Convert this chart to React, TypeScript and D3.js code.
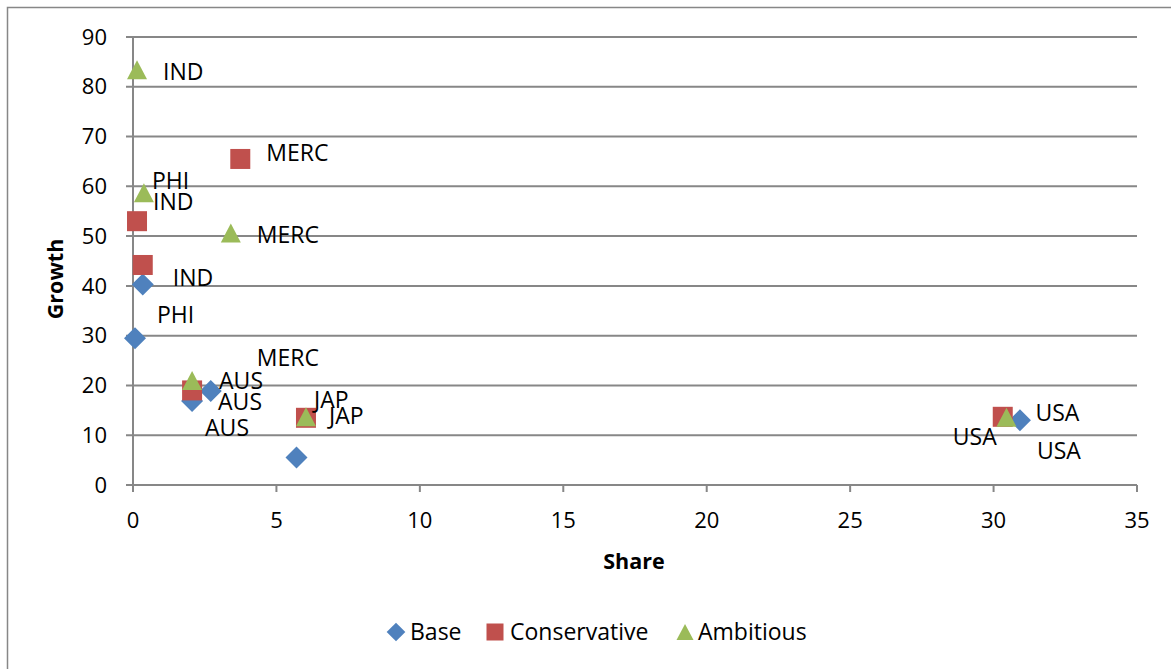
import React from "react";
import * as d3 from "d3";

// ---- data ----
const countries = ["IND", "PHI", "MERC", "AUS", "JAP", "USA"];
const baseShare = [0.34, 0.07, 2.71, 2.06, 5.7, 30.92];
const baseGrowth = [40.3, 29.5, 18.9, 16.9, 5.5, 13.0];
const consShare = [0.14, 0.34, 3.74, 2.06, 6.03, 30.32];
const consGrowth = [53.0, 44.2, 65.5, 19.0, 13.5, 13.7];
const ambShare = [0.14, 0.38, 3.41, 2.06, 6.03, 30.45];
const ambGrowth = [83.4, 58.7, 50.6, 21.0, 13.7, 13.6];
// which points show a data label
const baseLabelShown = [true, true, true, true, false, true];
const consLabelShown = [true, false, true, true, true, true];
const ambLabelShown = [true, true, true, true, true, true];
const xTicks = [0, 5, 10, 15, 20, 25, 30, 35];
const yTicks = [0, 10, 20, 30, 40, 50, 60, 70, 80, 90];
const seriesNames = ["Base", "Conservative", "Ambitious"];

// label offsets (pixels, style only): [dx to label start, dy to label middle]
const baseLabelOffsets: [number, number][] = [[30, -6], [22, -23], [46, -33], [13, 27], [0, 0], [17, 31]];
const consLabelOffsets: [number, number][] = [[16, -19], [0, 0], [26, -6], [26, 12], [8, -18], [-50, 20]];
const ambLabelOffsets: [number, number][] = [[26, 2], [8, -12], [26, 2], [27, 0], [23, -1], [29, -4]];

const colors = ["#4F81BD", "#C0504D", "#9BBB59"];
const FONT = "'Open Sans', sans-serif";
const GRID = "#878787";

const W = 1171, H = 669;
const x = d3.scaleLinear().domain([0, 35]).range([133, 1137]);
const y = d3.scaleLinear().domain([0, 90]).range([485, 37]);

function Marker({ kind, cx, cy, size, color }: { kind: number; cx: number; cy: number; size: number; color: string }) {
  if (kind === 0) {
    const r = size * 0.55;
    return <path d={`M${cx},${cy - r}L${cx + r},${cy}L${cx},${cy + r}L${cx - r},${cy}Z`} fill={color} />;
  }
  if (kind === 1) {
    return <rect x={cx - size / 2} y={cy - size / 2} width={size} height={size} fill={color} />;
  }
  const h = size * 0.95;
  return <path d={`M${cx},${cy - h / 2}L${cx + size / 2},${cy + h / 2}L${cx - size / 2},${cy + h / 2}Z`} fill={color} />;
}

export default function App() {
  const series = [
    { xs: baseShare, ys: baseGrowth, shown: baseLabelShown, off: baseLabelOffsets },
    { xs: consShare, ys: consGrowth, shown: consLabelShown, off: consLabelOffsets },
    { xs: ambShare, ys: ambGrowth, shown: ambLabelShown, off: ambLabelOffsets },
  ];
  const legendX = [396, 495, 685];
  const legendTextX = [410, 510, 698];
  return (
    <svg width={W} height={H} style={{ position: "absolute", left: 0, top: 0, background: "#fff" }} fontFamily={FONT}>
      <rect x={7.5} y={7.5} width={W + 20} height={H + 20} fill="#fff" stroke={GRID} strokeWidth={1.5} />
      {/* grid lines */}
      {yTicks.map((t) => (
        <line key={"g" + t} x1={126} x2={x(35)} y1={y(t)} y2={y(t)} stroke={GRID} strokeWidth={2} />
      ))}
      {/* y axis */}
      <line x1={x(0)} x2={x(0)} y1={y(90)} y2={y(0) + 6} stroke={GRID} strokeWidth={2} />
      {/* x ticks */}
      {xTicks.map((t) => (
        <line key={"xt" + t} x1={x(t)} x2={x(t)} y1={y(0)} y2={y(0) + 7} stroke={GRID} strokeWidth={2} />
      ))}
      {yTicks.map((t) => (
        <text key={"yl" + t} x={107} y={y(t)} dy="0.35em" textAnchor="end" fontSize={22} fill="#000">
          {t}
        </text>
      ))}
      {xTicks.map((t) => (
        <text key={"xl" + t} x={x(t)} y={520} dy="0.35em" textAnchor="middle" fontSize={22} fill="#000">
          {t}
        </text>
      ))}
      <text x={634} y={561} dy="0.35em" textAnchor="middle" fontSize={21.5} fontWeight="bold">
        Share
      </text>
      <text transform={`translate(55,279) rotate(-90)`} dy="0.35em" textAnchor="middle" fontSize={21.5} fontWeight="bold">
        Growth
      </text>
      {/* markers: base first, then conservative, then ambitious */}
      {series.map((s, si) =>
        s.xs.map((v, i) => (
          <Marker key={`m${si}-${i}`} kind={si} cx={x(v)} cy={y(s.ys[i])} size={20} color={colors[si]} />
        ))
      )}
      {series.map((s, si) =>
        s.xs.map((v, i) =>
          s.shown[i] ? (
            <text key={`l${si}-${i}`} x={x(v) + s.off[i][0]} y={y(s.ys[i]) + s.off[i][1]} dy="0.35em" fontSize={23} fill="#000">
              {countries[i]}
            </text>
          ) : null
        )
      )}
      {/* legend */}
      {seriesNames.map((n, i) => (
        <g key={"lg" + n}>
          <Marker kind={i} cx={legendX[i]} cy={632} size={17} color={colors[i]} />
          <text x={legendTextX[i]} y={632} dy="0.35em" fontSize={23} fill="#000">
            {n}
          </text>
        </g>
      ))}
    </svg>
  );
}
